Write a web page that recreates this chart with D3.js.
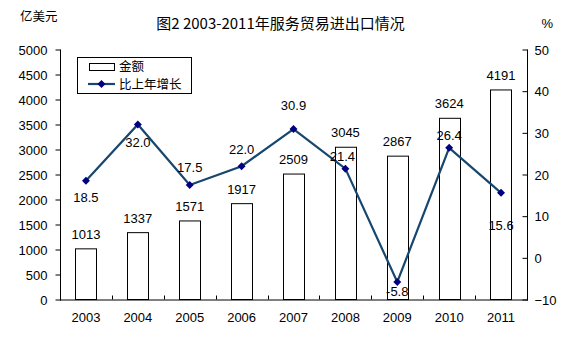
<!DOCTYPE html>
<html>
<head>
<meta charset="utf-8">
<script src="https://cdn.jsdelivr.net/npm/d3@7"></script>
<style>
  html, body { margin: 0; padding: 0; background: #fff; }
  svg { display: block; }
  text { font-family: "Liberation Sans", Arial, "Noto Sans CJK SC", sans-serif; fill: #000; }
  .cjk { font-family: "Noto Sans CJK SC", "Liberation Sans", sans-serif; }
</style>
</head>
<body>
<svg id="chart" width="568" height="364"></svg>
<script>
// ---- data ----
const years = ["2003","2004","2005","2006","2007","2008","2009","2010","2011"];
const amount = [1013, 1337, 1571, 1917, 2509, 3045, 2867, 3624, 4191];
const growth = [18.5, 32.0, 17.5, 22.0, 30.9, 21.4, -5.8, 26.4, 15.6];
const leftTicks = [0, 500, 1000, 1500, 2000, 2500, 3000, 3500, 4000, 4500, 5000];
const rightTicks = [-10, 0, 10, 20, 30, 40, 50];
const titleText = "图2 2003-2011年服务贸易进出口情况";
const leftUnit = "亿美元";
const rightUnit = "%";
const legendLabels = ["金额", "比上年增长"];
// label offsets for growth labels (styling: vertical offset from point, px)
const growthLabelDy = [17, 17.5, -17.5, -16.5, -24, -12.5, 9, -12.5, 32.5];
const growthLabelDx = [0, 0, 0, 0, 0, -3, 0, 0, 0];

// ---- layout ----
const svg = d3.select("#chart");
const m = { left: 60, right: 527, top: 49.5, bottom: 299.5 };

const x = d3.scaleBand().domain(years).range([m.left, m.right]).paddingInner(0).paddingOuter(0);
const yL = d3.scaleLinear().domain([0, 5000]).range([m.bottom, m.top]);
const yR = d3.scaleLinear().domain([-10, 50]).range([m.bottom, m.top]);
const barW = x.bandwidth() * 0.41;
const cx = d => x(d) + x.bandwidth() / 2;

// bars
svg.append("g").selectAll("rect").data(years).join("rect")
  .attr("x", (d) => Math.round(cx(d) - barW / 2) + 0.5)
  .attr("y", (d, i) => yL(amount[i]))
  .attr("width", Math.round(barW))
  .attr("height", (d, i) => m.bottom - yL(amount[i]))
  .attr("fill", "#fff").attr("stroke", "#000").attr("stroke-width", 1);

// left axis
const axL = svg.append("g").attr("transform", `translate(${m.left + 0.5},0)`)
  .call(d3.axisLeft(yL).tickValues(leftTicks).tickSize(5).tickPadding(8).tickFormat(d3.format("d")));
axL.selectAll("text").attr("font-size", 13).attr("dy", "0.35em");

// right axis (ticks point inward)
const axR = svg.append("g").attr("transform", `translate(${m.right + 0.5},0)`)
  .call(d3.axisRight(yR).tickValues(rightTicks).tickSize(-5).tickPadding(12).tickFormat(d3.format("d")));
axR.selectAll("text").attr("font-size", 13).attr("x", 7).attr("dy", "0.35em");

// bottom axis
const axB = svg.append("g").attr("transform", `translate(0,${m.bottom + 0.5})`)
  .call(d3.axisBottom(x).tickSize(0).tickPadding(13));
axB.selectAll("text").attr("font-size", 13).attr("dy", "0.71em");
// boundary ticks (upward, between categories)
svg.append("g").selectAll("line").data(years.slice(1)).join("line")
  .attr("x1", d => Math.round(x(d)) + 0.5).attr("x2", d => Math.round(x(d)) + 0.5)
  .attr("y1", m.bottom).attr("y2", m.bottom - 4)
  .attr("stroke", "#000");

[axL, axR, axB].forEach(a => {
  a.select(".domain").attr("stroke", "#000");
  a.selectAll(".tick line").attr("stroke", "#000");
});
axL.select(".domain").attr("d", `M0,${m.top}V${m.bottom + 1}`);
axR.select(".domain").attr("d", `M0,${m.top}V${m.bottom + 1}`);
axB.select(".domain").attr("d", `M${m.left},0H${m.right + 1}`);

// bar labels
svg.append("g").selectAll("text").data(years).join("text")
  .attr("x", d => cx(d))
  .attr("y", (d, i) => yL(amount[i]) - 10)
  .attr("text-anchor", "middle").attr("font-size", 13)
  .text((d, i) => amount[i]);

// growth line
const line = d3.line().x((d, i) => cx(years[i])).y(d => yR(d));
svg.append("path").datum(growth)
  .attr("d", line).attr("fill", "none")
  .attr("stroke", "#17476e").attr("stroke-width", 2.2);
svg.append("g").selectAll("path").data(growth).join("path")
  .attr("d", d3.symbol(d3.symbolDiamond2, 40))
  .attr("transform", (d, i) => `translate(${cx(years[i])},${yR(d)})`)
  .attr("fill", "#000080");

// growth labels
svg.append("g").selectAll("text").data(growth).join("text")
  .attr("x", (d, i) => cx(years[i]) + growthLabelDx[i])
  .attr("y", (d, i) => yR(d) + growthLabelDy[i])
  .attr("dy", "0.35em")
  .attr("text-anchor", "middle").attr("font-size", 13)
  .text(d => d.toFixed(1));

// title & units
svg.append("text").attr("class", "cjk").attr("x", 280.5).attr("y", 29)
  .attr("text-anchor", "middle").attr("font-size", 15).text(titleText);
svg.append("text").attr("class", "cjk").attr("x", 20).attr("y", 21)
  .attr("font-size", 12.5).text(leftUnit);
svg.append("text").attr("x", 541.5).attr("y", 28)
  .attr("font-size", 13).text(rightUnit);

// legend
const lg = svg.append("g");
lg.append("rect").attr("x", 77.5).attr("y", 57.5).attr("width", 114).attr("height", 36)
  .attr("fill", "#fff").attr("stroke", "#000");
lg.append("rect").attr("x", 89.5).attr("y", 63.5).attr("width", 25).attr("height", 7)
  .attr("fill", "#fff").attr("stroke", "#000");
lg.append("line").attr("x1", 88).attr("x2", 115).attr("y1", 84).attr("y2", 84)
  .attr("stroke", "#17476e").attr("stroke-width", 2.2);
lg.append("path").attr("d", d3.symbol(d3.symbolDiamond2, 40))
  .attr("transform", "translate(101.5,84)").attr("fill", "#000080");
lg.append("text").attr("class", "cjk").attr("x", 119).attr("y", 66.5).attr("dy", "0.35em")
  .attr("font-size", 12.5).text(legendLabels[0]);
lg.append("text").attr("class", "cjk").attr("x", 119).attr("y", 84.5).attr("dy", "0.35em")
  .attr("font-size", 12.5).text(legendLabels[1]);
</script>
</body>
</html>
